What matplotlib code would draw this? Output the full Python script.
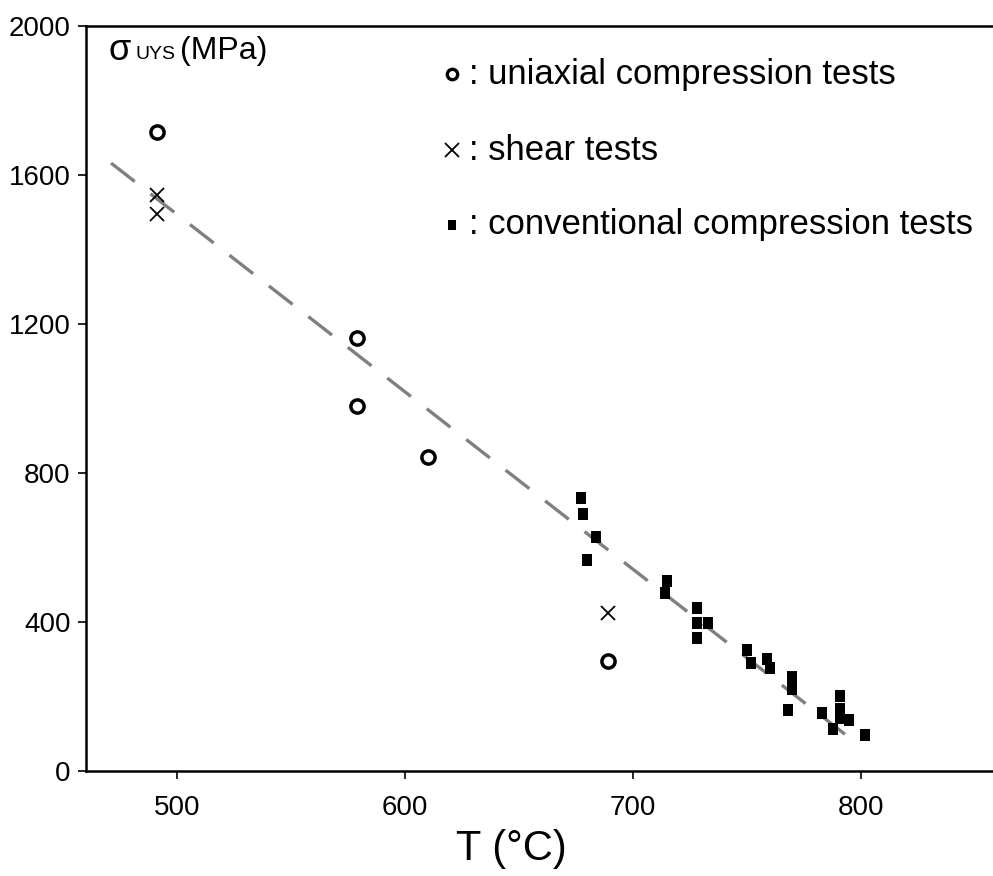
"""
Uniaxial yield stress vs temperature, recreated from a scanned figure.
"""

import matplotlib
matplotlib.use("Agg")
import matplotlib.pyplot as plt

plt.rcParams["font.family"] = ["Liberation Sans", "DejaVu Sans"]

# uniaxial compression tests (T in °C, stress in MPa)
circle_T = [491, 579, 579, 610, 689]
circle_s = [1715, 1163, 980, 843, 295]

# shear tests
shear_T = [491, 491, 689]
shear_s = [1546, 1496, 424]

# conventional compression tests
conv_T = [677, 678, 684, 680, 715, 714, 728, 728, 733, 728,
          750, 752, 759, 760, 770, 770, 768, 783, 791, 791,
          791, 795, 788, 802]
conv_s = [732, 690, 629, 566, 511, 477, 438, 397, 397, 358,
          325, 289, 300, 276, 252, 220, 164, 155, 201, 166,
          142, 137, 112, 97]

# fitted trend line (end points)
fit_T = [471, 798]
fit_s = [1632, 75]

x_ticks = [500, 600, 700, 800]
y_ticks = [0, 400, 800, 1200, 1600, 2000]

legend_labels = [": uniaxial compression tests", ": shear tests",
                 ": conventional compression tests"]

rect = [(-0.4, -0.5), (0.4, -0.5), (0.4, 0.5), (-0.4, 0.5), (-0.4, -0.5)]

fig = plt.figure(figsize=(9.93, 8.76), dpi=100)
ax = fig.add_axes([0.0866, 0.1199, 0.9134, 0.8504])

ax.plot(fit_T, fit_s, color="#808080", linewidth=2.4,
        dashes=(9.0, 6.0), solid_capstyle="butt", zorder=1)

ax.plot(circle_T, circle_s, linestyle="none", marker="o", markersize=9.5,
        markerfacecolor="none", markeredgecolor="black", markeredgewidth=2.5,
        zorder=3)
ax.plot(shear_T, shear_s, linestyle="none", marker="x", markersize=10.5,
        markeredgecolor="black", markeredgewidth=1.3, zorder=3)
ax.plot(conv_T, conv_s, linestyle="none", marker=rect, markersize=8.5,
        markerfacecolor="black", markeredgecolor="black", markeredgewidth=0,
        zorder=3)

ax.set_xlim(460, 858)
ax.set_ylim(0, 2000)
ax.set_xticks(x_ticks)
ax.set_yticks(y_ticks)

for side in ["left", "top", "bottom"]:
    ax.spines[side].set_linewidth(1.8)
ax.spines["right"].set_visible(False)

ax.tick_params(axis="both", direction="out", length=6, width=1.2,
               labelsize=20)
ax.tick_params(axis="x", pad=11)
ax.tick_params(axis="y", pad=5)

# legend drawn by hand
leg_y = [0.935, 0.833, 0.733]
markers = [dict(marker="o", markersize=7.5, markerfacecolor="none",
                markeredgewidth=2.4),
           dict(marker="x", markersize=9.5, markeredgewidth=1.3),
           dict(marker=rect, markersize=7.5, markerfacecolor="black",
                markeredgewidth=0)]
for y, lab, mk in zip(leg_y, legend_labels, markers):
    ax.plot([0.404], [y], transform=ax.transAxes, linestyle="none",
            color="black", markeredgecolor="black", clip_on=False, **mk)
    ax.text(0.422, y, lab, transform=ax.transAxes, fontsize=25,
            va="center", ha="left")

# y axis label inside plot
fig.text(0.109, 0.942, "σ", fontsize=26, va="center")
fig.text(0.136, 0.938, "UYS", fontsize=14, va="center")
fig.text(0.181, 0.942, "(MPa)", fontsize=23, va="center")

fig.text(0.515, 0.008, "T (°C)", fontsize=30, ha="center", va="bottom")

fig.savefig("out.png", dpi=100)
